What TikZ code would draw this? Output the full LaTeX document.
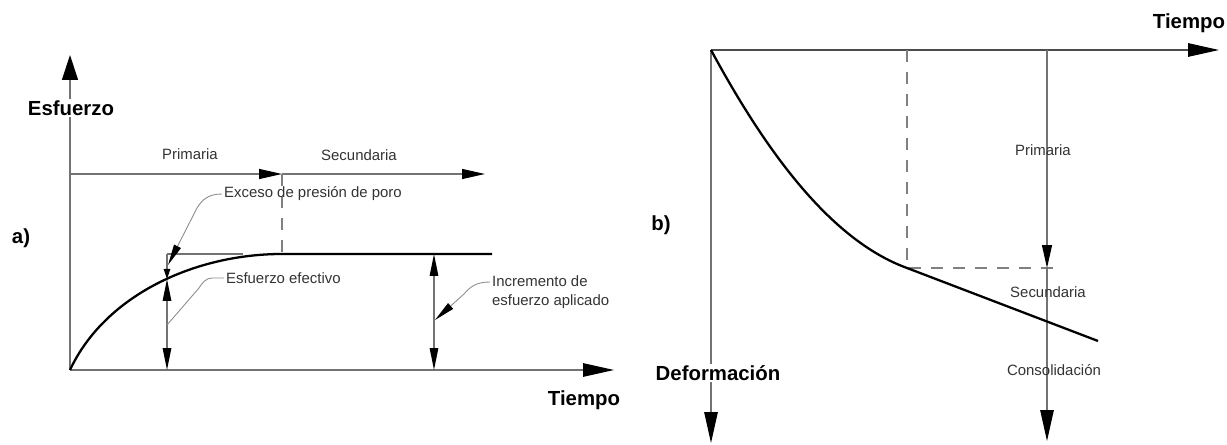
\documentclass[tikz,border=0pt]{standalone}
\usepackage{fontspec}
\setmainfont{Liberation Sans}
\usetikzlibrary{arrows.meta,calc}

\begin{document}
\begin{tikzpicture}[x=0.02cm, y=-0.02cm,
    axis/.style={draw=black!55, line width=0.7pt},
    guide/.style={draw=black!50, line width=0.6pt, dash pattern=on 0.24cm off 0.2cm},
    leader/.style={draw=black!45, line width=0.5pt},
    curve/.style={draw=black, line width=1.3pt},
    lbl/.style={text=black!80, inner sep=1pt, font=\fontsize{8.5}{10.8}\selectfont},
    biglbl/.style={text=black, inner sep=1pt, font=\fontsize{11.6}{13}\selectfont\bfseries},
    bigtip/.style={-{Triangle[length=0.62cm, width=0.27cm, color=black]}},
    uptip/.style={-{Triangle[length=0.5cm, width=0.32cm, color=black]}},
    midtip/.style={-{Triangle[length=0.46cm, width=0.2cm, color=black]}},
    dimtip/.tip={Triangle[length=0.44cm, width=0.17cm, color=black]},
    leadtip/.tip={Triangle[length=0.42cm, width=0.15cm, color=black]}]
\useasboundingbox (0,0) rectangle (1227,445);

% a) stress against time
\coordinate (a0)   at (70,370);
\coordinate (aY)   at (70,55);
\coordinate (aX)   at (614,370);
\coordinate (aT0)  at (70,174);
\coordinate (aT1)  at (282,174);
\coordinate (aT2)  at (485,174);
\coordinate (aPl)  at (282,254);
\coordinate (aE)   at (492,254);
\coordinate (p1top) at (167,254);
\coordinate (p1c)   at (167,279);
\coordinate (p1bot) at (167,370);
\coordinate (p1end) at (243,254);
\coordinate (p2top) at (434,254);
\coordinate (p2bot) at (434,370);
\coordinate (ppTip)  at (168,265);
\coordinate (efTip)  at (167,325);
\coordinate (incTip) at (435,320);

\draw[axis, uptip] (a0) -- (aY);
\draw[axis, bigtip] (a0) -- (aX);
\draw[axis, midtip] (aT0) -- (aT1);
\draw[axis, midtip] (aT1) -- (aT2);
\draw[guide] (aT1) -- (aPl);
\draw[axis] (p1top) -- (p1end);
\draw[axis, -{Triangle[length=0.2cm, width=0.13cm, color=black]}] (p1top) -- (p1c);
\draw[axis, dimtip-dimtip] (p1c) -- (p1bot);
\draw[axis, dimtip-dimtip] (p2top) -- (p2bot);
\draw[curve] (a0) .. controls (105,295) and (195,254) .. (aPl) -- (aE);

\node[biglbl, fill=white] (esf)  at (71,108) {Esfuerzo};
\node[biglbl] (tiea) at (584,400) {Tiempo};
\node[biglbl] (la)   at (21,238) {a)};
\node[lbl] (prima) at (190,154) {Primaria};
\node[lbl] (secua) at (359,155) {Secundaria};
\node[lbl, anchor=west] (exceso) at (222,194) {Exceso de presión de poro};
\node[lbl, anchor=west] (efect)  at (224,278) {Esfuerzo efectivo};
\node[lbl, anchor=west, align=left] (incr) at (490,292) {Incremento de\\esfuerzo aplicado};
\coordinate (incr1) at ($(incr.west)+(0,-10)$);

\draw[leader, -leadtip] (exceso.west) .. controls (208,194) and (202,200) .. (197,208) -- (ppTip);
\draw[leader] (efect.west) -- (212,278) .. controls (206,278) and (202,283) .. (199,288) -- (efTip);
\draw[leader, -leadtip] (incr1) .. controls (476,282) and (470,287) .. (464,294) -- (incTip);

% b) deformation against time
\coordinate (b0)  at (711,50);
\coordinate (bX)  at (1219,50);
\coordinate (bY)  at (711,443);
\coordinate (bD1) at (907,50);
\coordinate (bK)  at (907,268);
\coordinate (bD2) at (1056,268);
\coordinate (bP0) at (1047,50);
\coordinate (bP1) at (1047,268);
\coordinate (bS1) at (1047,441);
\coordinate (bE)  at (1098,341);

\draw[axis, draw=black!70, bigtip] (b0) -- (bX);
\draw[axis, bigtip] (b0) -- (bY);
\draw[guide] (bD1) -- (bK) -- (bD2);
\draw[axis, midtip] (bP0) -- (bP1);
\draw[axis, bigtip] (bP1) -- (bS1);
\draw[curve] (b0) .. controls (765,150) and (830,240) .. (bK) -- (bE);

\node[biglbl] (lb)   at (661,225) {b)};
\node[biglbl] (tieb) at (1189,23) {Tiempo};
\node[biglbl, fill=white] (defo) at (718,373) {Deformación};
\node[lbl] (primb) at (1043,150) {Primaria};
\node[lbl] (secub) at (1048,292) {Secundaria};
\node[lbl] (cons)  at (1054,370) {Consolidación};
\end{tikzpicture}
\end{document}
